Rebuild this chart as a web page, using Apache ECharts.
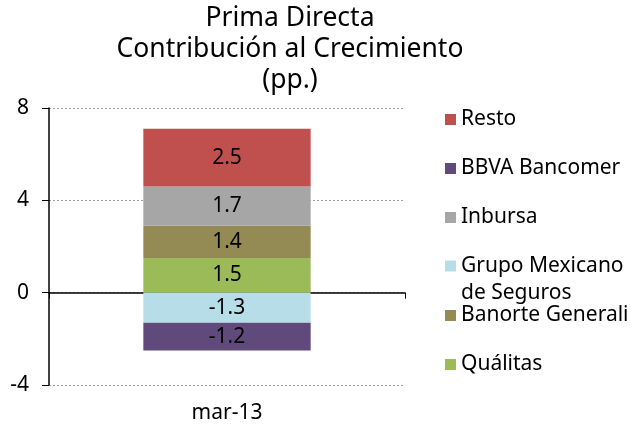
<!DOCTYPE html>
<html>
<head>
<meta charset="utf-8">
<script src="https://cdn.jsdelivr.net/npm/echarts@6/dist/echarts.min.js"></script>
<style>
  html, body { margin: 0; padding: 0; background: #fff; }
  #chart { width: 630px; height: 429px; }
</style>
</head>
<body>
<div id="chart"></div>
<script>
// data
let categories = ['mar-13'];
let seriesNames = ['Quálitas', 'Banorte Generali', 'Inbursa', 'Resto', 'Grupo Mexicano de Seguros', 'BBVA Bancomer'];
let qualitas = [1.5];
let banorte = [1.4];
let inbursa = [1.7];
let resto = [2.5];
let grupoMexicano = [-1.3];
let bbva = [-1.2];
let yTicks = [-4, 0, 4, 8];

// legend order as in the original (top to bottom)
let legendOrder = ['Resto', 'BBVA Bancomer', 'Inbursa', 'Grupo Mexicano de Seguros', 'Banorte Generali', 'Quálitas'];

let colors = {
    'Quálitas': '#9BBB59',
    'Banorte Generali': '#948A54',
    'Inbursa': '#A6A6A6',
    'Resto': '#C0504D',
    'Grupo Mexicano de Seguros': '#B7DDE8',
    'BBVA Bancomer': '#604A7B'
};
let values = [qualitas, banorte, inbursa, resto, grupoMexicano, bbva];

const FONT = '"Noto Sans", sans-serif';

let series = seriesNames.map((name, i) => ({
    name: name,
    type: 'bar',
    stack: 'total',
    barWidth: '47%',
    xAxisIndex: 0,
    itemStyle: { color: colors[name] },
    label: {
        show: true,
        position: 'inside',
        color: '#000',
        fontFamily: FONT,
        fontSize: 21,
        formatter: (p) => p.value.toFixed(1)
    },
    data: values[i]
}));

// one legend per item so the spacing follows the original;
// the long name wraps, an empty first line keeps the icon on "Grupo Mexicano"
let legends = legendOrder.map((name, i) => {
    let center = 119 + i * 49;
    let multi = name === 'Grupo Mexicano de Seguros';
    return {
        data: [name],
        orient: 'vertical',
        left: 440,
        top: multi ? center - 5 - 40.5 : center - 5 - 10,
        itemWidth: 11,
        itemHeight: 11,
        icon: 'rect',
        selectedMode: false,
        formatter: multi ? () => '\nGrupo Mexicano\nde Seguros' : undefined,
        textStyle: {
            color: '#000',
            fontFamily: FONT,
            fontSize: 21,
            lineHeight: multi ? 27 : 20
        }
    };
});

let chart = echarts.init(document.getElementById('chart'), null, { renderer: 'canvas' });
chart.setOption({
    animation: false,
    title: {
        text: 'Prima Directa\nContribución al Crecimiento\n(pp.)',
        left: 290,
        textAlign: 'center',
        top: 3,
        padding: 0,
        textStyle: {
            color: '#000',
            fontFamily: FONT,
            fontSize: 26.5,
            fontWeight: 'normal',
            lineHeight: 31
        }
    },
    legend: legends,
    grid: { left: 49, right: 225, top: 108, bottom: 44, containLabel: false },
    xAxis: [{
        type: 'category',
        data: categories,
        axisLine: { onZero: true, lineStyle: { color: '#000', width: 1.5 } },
        axisTick: { show: true, length: 6, lineStyle: { color: '#000' } },
        axisLabel: { show: false }
    }, {
        type: 'category',
        data: categories,
        position: 'bottom',
        axisLine: { show: false, onZero: false },
        axisTick: { show: false },
        axisLabel: { color: '#000', fontFamily: FONT, fontSize: 21, margin: 18 }
    }],
    yAxis: {
        type: 'value',
        min: yTicks[0],
        max: yTicks[yTicks.length - 1],
        interval: 4,
        axisLine: { show: true, lineStyle: { color: '#000', width: 1.5 } },
        axisTick: { show: true, length: 7, lineStyle: { color: '#000' } },
        axisLabel: { color: '#000', fontFamily: FONT, fontSize: 21, margin: 20 },
        splitLine: { show: true, lineStyle: { color: '#A0A0A0', type: [2, 2], width: 1 } }
    },
    series: series
});
</script>
</body>
</html>
